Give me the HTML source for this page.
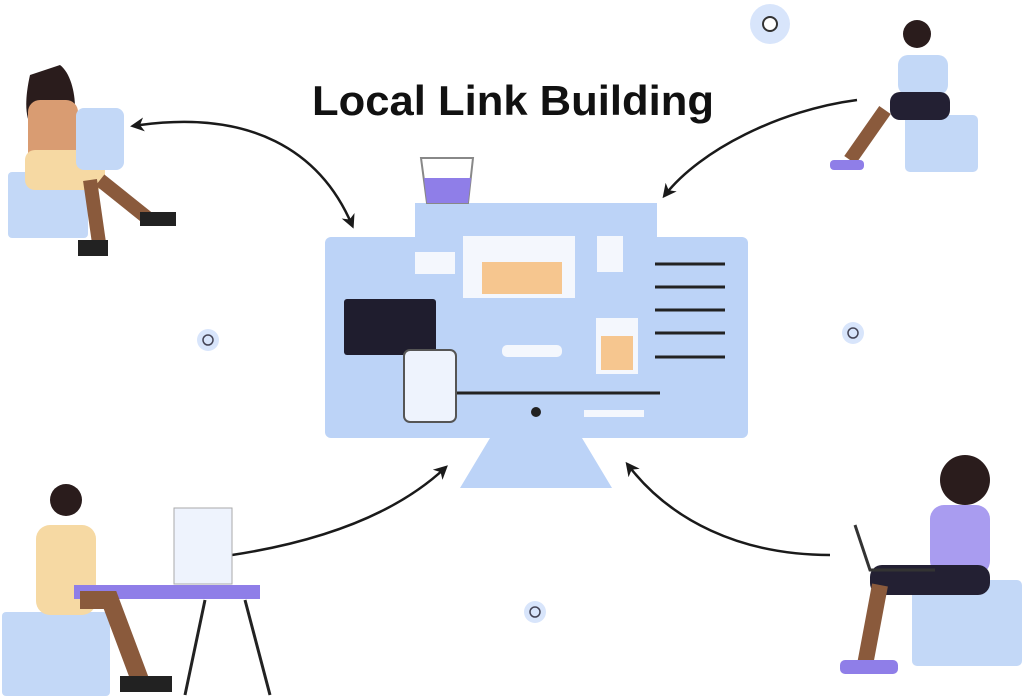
<!DOCTYPE html>
<html><head><style>
html,body{margin:0;padding:0;background:#fff;width:1024px;height:700px;overflow:hidden}
</style></head><body>
<svg width="1024" height="700" viewBox="0 0 1024 700" xmlns="http://www.w3.org/2000/svg">
<defs><marker id="ah" markerWidth="14" markerHeight="14" refX="10" refY="7" orient="auto" markerUnits="userSpaceOnUse"><path d="M0,0 L14,7 L0,14 L4,7 Z" fill="#1a1a1a"/></marker>
<marker id="as" markerWidth="14" markerHeight="14" refX="4" refY="7" orient="auto-start-reverse" markerUnits="userSpaceOnUse"><path d="M0,0 L14,7 L0,14 L4,7 Z" fill="#1a1a1a"/></marker></defs>
<text x="513" y="115" text-anchor="middle" font-family="Liberation Sans, sans-serif" font-weight="bold" font-size="42" fill="#111" textLength="402" lengthAdjust="spacingAndGlyphs">Local Link Building</text>
<!-- monitor -->
<rect x="415" y="203" width="242" height="40" fill="#bcd3f7"/>
<rect x="325" y="237" width="423" height="201" rx="6" fill="#bcd3f7"/>
<path d="M490,438 L582,438 L612,488 L460,488 Z" fill="#bcd3f7"/>
<rect x="463" y="236" width="112" height="62" fill="#f4f7fd"/>
<rect x="482" y="262" width="80" height="32" fill="#f6c68f"/>
<rect x="597" y="236" width="26" height="36" fill="#f4f7fd"/>
<rect x="415" y="252" width="40" height="22" fill="#f4f7fd"/>
<rect x="344" y="299" width="92" height="56" rx="3" fill="#1f1d2e"/>
<g stroke="#222" stroke-width="3"><line x1="655" y1="264" x2="725" y2="264"/><line x1="655" y1="287" x2="725" y2="287"/><line x1="655" y1="310" x2="725" y2="310"/><line x1="655" y1="333" x2="725" y2="333"/><line x1="655" y1="357" x2="725" y2="357"/><line x1="438" y1="393" x2="660" y2="393"/></g>
<rect x="596" y="318" width="42" height="56" fill="#f4f7fd"/><rect x="601" y="336" width="32" height="34" fill="#f6c68f"/>
<rect x="404" y="350" width="52" height="72" rx="6" fill="#eef3fd" stroke="#555" stroke-width="2"/>
<rect x="502" y="345" width="60" height="12" rx="5" fill="#f4f7fd"/>
<rect x="584" y="410" width="60" height="7" fill="#f4f7fd"/>
<circle cx="536" cy="412" r="5" fill="#222"/>
<!-- cup -->
<path d="M421,158 L473,158 L468,203 L427,203 Z" fill="#fff" stroke="#888" stroke-width="2"/>
<path d="M424,178 L471,178 L468,203 L427,203 Z" fill="#8f7ee8"/>
<!-- arrows -->
<g fill="none" stroke="#1a1a1a" stroke-width="2.5">
<path d="M140,125 C250,110 320,150 352,225" marker-start="url(#as)" marker-end="url(#ah)"/>
<path d="M857,100 C780,110 700,150 665,195" marker-end="url(#ah)"/>
<path d="M232,555 C330,540 400,510 445,468" marker-end="url(#ah)"/>
<path d="M830,555 C740,555 670,520 628,465" marker-end="url(#ah)"/>
</g>
<!-- small circles -->
<circle cx="770" cy="24" r="20" fill="#d8e5fb"/><circle cx="770" cy="24" r="7" fill="#fff" stroke="#333" stroke-width="2"/>
<g fill="#d8e5fb"><circle cx="208" cy="340" r="11"/><circle cx="853" cy="333" r="11"/><circle cx="535" cy="612" r="11"/></g>
<g fill="none" stroke="#445" stroke-width="1.5"><circle cx="208" cy="340" r="5"/><circle cx="853" cy="333" r="5"/><circle cx="535" cy="612" r="5"/></g>
<!-- top-left person -->
<rect x="8" y="172" width="80" height="66" rx="4" fill="#c3d8f7"/>
<path d="M30,75 C20,120 30,140 60,140 C80,140 80,80 60,65 Z" fill="#2a1c1c"/>
<rect x="28" y="100" width="50" height="70" rx="12" fill="#d99c72"/>
<rect x="25" y="150" width="80" height="40" rx="10" fill="#f6d9a3"/>
<path d="M90,180 L100,250 M100,180 L150,220" stroke="#8a5a3c" stroke-width="14"/>
<rect x="78" y="240" width="30" height="16" fill="#222"/><rect x="140" y="212" width="36" height="14" fill="#222"/>
<rect x="76" y="108" width="48" height="62" rx="8" fill="#c3d8f7"/>
<!-- top-right person -->
<rect x="905" y="115" width="73" height="57" rx="5" fill="#c3d8f7"/>
<circle cx="917" cy="34" r="14" fill="#2a1c1c"/>
<rect x="898" y="55" width="50" height="40" rx="10" fill="#c3d8f7"/>
<rect x="890" y="92" width="60" height="28" rx="10" fill="#232033"/>
<path d="M885,110 L850,160" stroke="#8a5a3c" stroke-width="14"/>
<rect x="830" y="160" width="34" height="10" rx="4" fill="#8f7ee8"/>
<!-- bottom-left person -->
<rect x="2" y="612" width="108" height="84" rx="4" fill="#c3d8f7"/>
<circle cx="66" cy="500" r="16" fill="#2a1c1c"/>
<rect x="36" y="525" width="60" height="90" rx="14" fill="#f6d9a3"/>
<rect x="74" y="585" width="186" height="14" fill="#8f7ee8"/>
<path d="M80,600 L110,600 L140,680" stroke="#8a5a3c" stroke-width="18" fill="none"/>
<rect x="120" y="676" width="52" height="16" fill="#222"/>
<path d="M205,600 L185,695 M245,600 L270,695" stroke="#222" stroke-width="3"/>
<rect x="174" y="508" width="58" height="76" fill="#eef3fd" stroke="#aaa"/>
<!-- bottom-right person -->
<rect x="912" y="580" width="110" height="86" rx="5" fill="#c3d8f7"/>
<circle cx="965" cy="480" r="25" fill="#2a1c1c"/>
<rect x="930" y="505" width="60" height="70" rx="14" fill="#a99cf0"/>
<rect x="870" y="565" width="120" height="30" rx="12" fill="#232033"/>
<path d="M880,585 L865,665" stroke="#8a5a3c" stroke-width="16"/>
<rect x="840" y="660" width="58" height="14" rx="5" fill="#8f7ee8"/>
<path d="M855,525 L870,570 L935,570" stroke="#333" stroke-width="3" fill="none"/>
</svg>
</body></html>
